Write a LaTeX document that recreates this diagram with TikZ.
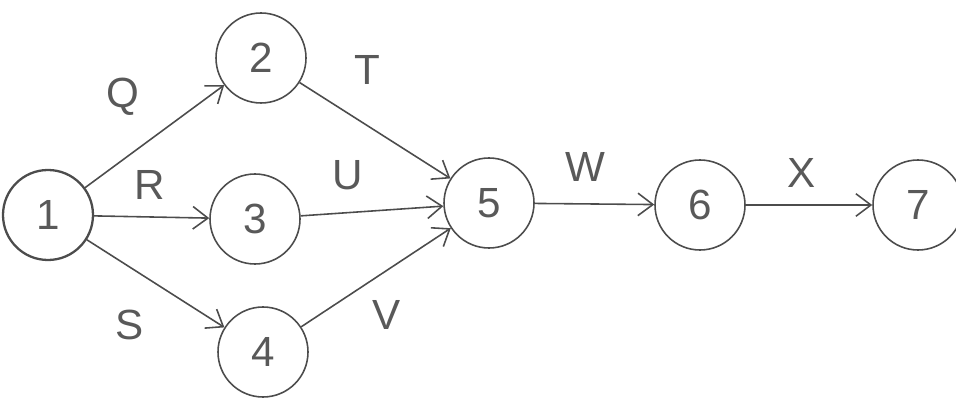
\documentclass[tikz,border=0pt]{standalone}
\usepackage{fontspec}
\setmainfont{Liberation Sans}
\usetikzlibrary{arrows.meta}
\begin{document}
\begin{tikzpicture}[ev/.style={circle,draw,gray!60!black,line width=.9pt,minimum size=1.8cm,inner sep=0pt,text=gray!70!black,font=\fontsize{24}{24}\selectfont},
  act/.style={gray!60!black,line width=.9pt,-{Straight Barb[length=3mm,width=4.5mm]}},
  lab/.style={text=gray!70!black,font=\fontsize{24}{24}\selectfont}]
\useasboundingbox (0,0) rectangle (19.12,8);
\node [ev,line width=1.3pt] (n1) at (0.96,3.70) {1};
\node [ev] (n2) at (5.22,6.84) {2};
\node [ev] (n3) at (5.10,3.62) {3};
\node [ev] (n4) at (5.26,0.96) {4};
\node [ev] (n5) at (9.78,3.94) {5};
\node [ev] (n6) at (14.00,3.90) {6};
\node [ev] (n7) at (18.36,3.90) {7};
\draw [act] (n1) -- (n2);
\draw [act] (n1) -- (n3);
\draw [act] (n1) -- (n4);
\draw [act] (n2) -- (n5);
\draw [act] (n3) -- (n5);
\draw [act] (n4) -- (n5);
\draw [act] (n5) -- (n6);
\draw [act] (n6) -- (n7);
\node [lab] (lQ) at (2.46,6.06) {Q};
\node [lab] (lR) at (3.00,4.30) {R};
\node [lab] (lS) at (2.60,1.50) {S};
\node [lab] (lT) at (7.34,6.60) {T};
\node [lab] (lU) at (6.96,4.50) {U};
\node [lab] (lV) at (7.74,1.70) {V};
\node [lab] (lW) at (11.70,4.66) {W};
\node [lab] (lX) at (16.04,4.54) {X};
\end{tikzpicture}
\end{document}
